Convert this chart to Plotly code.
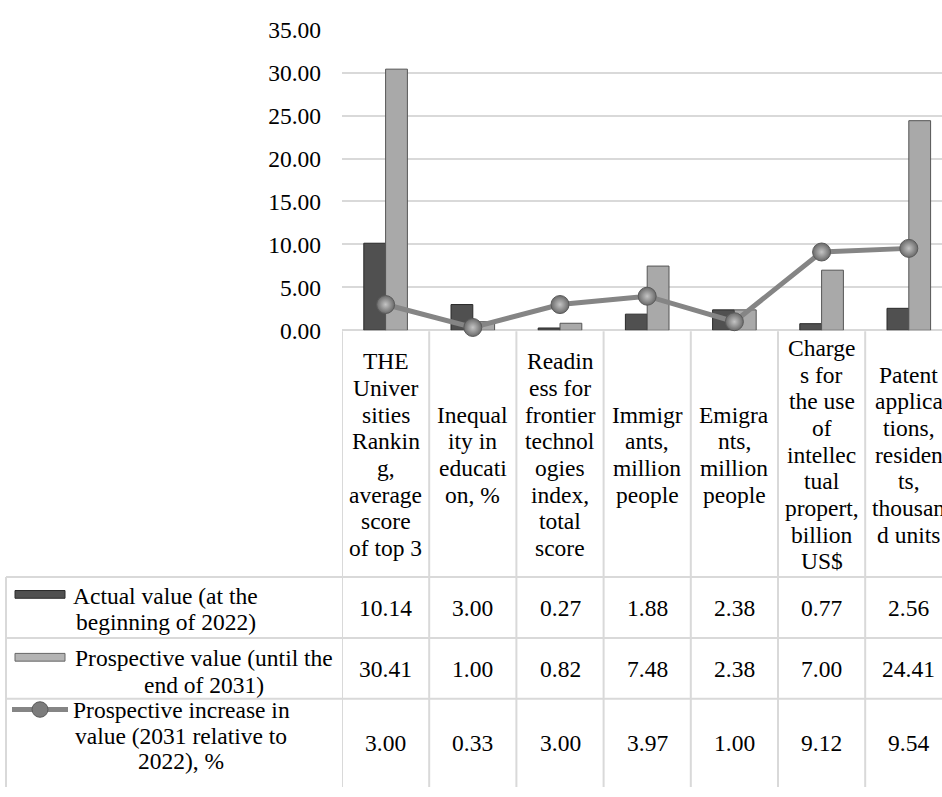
import plotly.graph_objects as go

# ---------------- data ----------------
categories = [
    "THE Universities Ranking, average score of top 3",
    "Inequality in education, %",
    "Readiness for frontier technologies index, total score",
    "Immigrants, million people",
    "Emigrants, million people",
    "Charges for the use of intellectual propert, billion US$",
    "Patent applications, residents, thousand units",
]
header_labels = [
    ["THE", "Univer", "sities", "Rankin", "g,", "average", "score", "of top 3"],
    ["Inequal", "ity in", "educati", "on, %"],
    ["Readin", "ess for", "frontier", "technol", "ogies", "index,", "total", "score"],
    ["Immigr", "ants,", "million", "people"],
    ["Emigra", "nts,", "million", "people"],
    ["Charge", "s for", "the use", "of", "intellec", "tual", "propert,", "billion", "US$"],
    ["Patent", "applica", "tions,", "residen", "ts,", "thousan", "d units"],
]
actual_value = [10.14, 3.00, 0.27, 1.88, 2.38, 0.77, 2.56]
prospective_value = [30.41, 1.00, 0.82, 7.48, 2.38, 7.00, 24.41]
prospective_increase = [3.00, 0.33, 3.00, 3.97, 1.00, 9.12, 9.54]

series_names = [
    ["Actual value (at the", "beginning of 2022)"],
    ["Prospective value (until the", "end of 2031)"],
    ["Prospective increase in", "value (2031 relative to", "2022), %"],
]

# ---------------- layout helpers ----------------
W, H = 942, 797
def px(x):
    return x / W
def py(y):
    return 1 - y / H

FONT = "Liberation Serif"
FS = 23.5
GRID = "#d9d9d9"
DARK = "#505050"
LIGHT = "#a9a9a9"
LINEC = "#858585"

x_idx = list(range(len(categories)))

fig = go.Figure()
fig.add_trace(go.Bar(
    x=x_idx, y=actual_value, name="Actual value",
    marker=dict(color=DARK, line=dict(color="#2a2a2a", width=1)),
))
fig.add_trace(go.Bar(
    x=x_idx, y=prospective_value, name="Prospective value",
    marker=dict(color=LIGHT, line=dict(color="#555555", width=1)),
))
fig.add_trace(go.Scatter(
    x=x_idx, y=prospective_increase, mode="lines+markers", name="Prospective increase",
    line=dict(color=LINEC, width=5),
    marker=dict(size=18, color="#6a6a6a",
                gradient=dict(type="radial", color="#c4c4c4"),
                line=dict(color="#5a5a5a", width=1)),
    cliponaxis=False,
))

col_w = 87.2
x_left = 342
annotations = []
shapes = []

# header labels (category names)
HC = 456.5
LH = 27.6
for i, lines in enumerate(header_labels):
    n = len(lines)
    for j, ln in enumerate(lines):
        yy = HC + (j - (n - 1) / 2) * LH
        annotations.append(dict(x=i, xref="x", y=py(yy), yref="paper", text=ln,
                                showarrow=False, xanchor="center", yanchor="middle",
                                font=dict(family=FONT, size=FS, color="black")))

# table values
row_centers = [615, 678, 755]
for r, vals in enumerate([actual_value, prospective_value, prospective_increase]):
    for i, v in enumerate(vals):
        annotations.append(dict(x=i, xref="x", y=py(row_centers[r]), yref="paper",
                                text=f"{v:.2f}", showarrow=False,
                                xanchor="center", yanchor="middle",
                                font=dict(family=FONT, size=FS, color="black")))

# series names in first column
name_pos = [
    (165.5, [603, 630]),
    (204, [667, 695]),
    (181, [720, 747, 773]),
]
for (cx, ys), lines in zip(name_pos, series_names):
    for yy, ln in zip(ys, lines):
        annotations.append(dict(x=px(cx), xref="paper", y=py(yy), yref="paper", text=ln,
                                showarrow=False, xanchor="center", yanchor="middle",
                                font=dict(family=FONT, size=FS, color="black")))

# table grid: vertical lines at category boundaries
for k in range(len(categories)):
    shapes.append(dict(type="line", xref="x", yref="paper", x0=k - 0.5, x1=k - 0.5,
                       y0=py(329), y1=py(800), line=dict(color=GRID, width=2), layer="above"))
# left border of table
shapes.append(dict(type="line", xref="paper", yref="paper", x0=px(6), x1=px(6),
                   y0=py(583), y1=py(800), line=dict(color=GRID, width=2)))
# horizontal row lines
for yy in [583, 646, 709]:
    shapes.append(dict(type="line", xref="paper", yref="paper", x0=px(6), x1=1,
                       y0=py(yy), y1=py(yy), line=dict(color=GRID, width=2)))

# legend keys
shapes.append(dict(type="rect", xref="paper", yref="paper", x0=px(15), x1=px(65),
                   y0=py(605), y1=py(597), fillcolor=DARK, line=dict(color="#2a2a2a", width=1)))
shapes.append(dict(type="rect", xref="paper", yref="paper", x0=px(15), x1=px(65),
                   y0=py(670), y1=py(662), fillcolor="#b4b4b4", line=dict(color="#666666", width=1)))
shapes.append(dict(type="line", xref="paper", yref="paper", x0=px(12), x1=px(68),
                   y0=py(720), y1=py(720), line=dict(color=LINEC, width=5)))
shapes.append(dict(type="circle", xref="paper", yref="paper", x0=px(32), x1=px(48),
                   y0=py(728), y1=py(712), fillcolor="#7c7c7c", line=dict(color="#5a5a5a", width=1)))

fig.update_layout(
    width=W, height=H,
    margin=dict(l=0, r=0, t=0, b=0),
    paper_bgcolor="white", plot_bgcolor="white",
    barmode="group", bargap=0.5, bargroupgap=0,
    showlegend=False,
    font=dict(family=FONT, size=FS, color="black"),
    xaxis=dict(domain=[px(x_left), 1], range=[-0.5, -0.5 + (W - x_left) / col_w],
               showticklabels=False, showgrid=False, zeroline=False, ticks="",
               fixedrange=True),
    yaxis=dict(domain=[py(328), py(17.3)], range=[0, 35], dtick=5, tickformat=".2f",
               showgrid=True, gridcolor=GRID, gridwidth=2, zeroline=True,
               zerolinecolor=GRID, zerolinewidth=2, ticks="", ticklabelstandoff=20,
               tickfont=dict(family=FONT, size=FS, color="black"), fixedrange=True),
    annotations=annotations,
    shapes=shapes,
)

fig.write_html("out.html")
